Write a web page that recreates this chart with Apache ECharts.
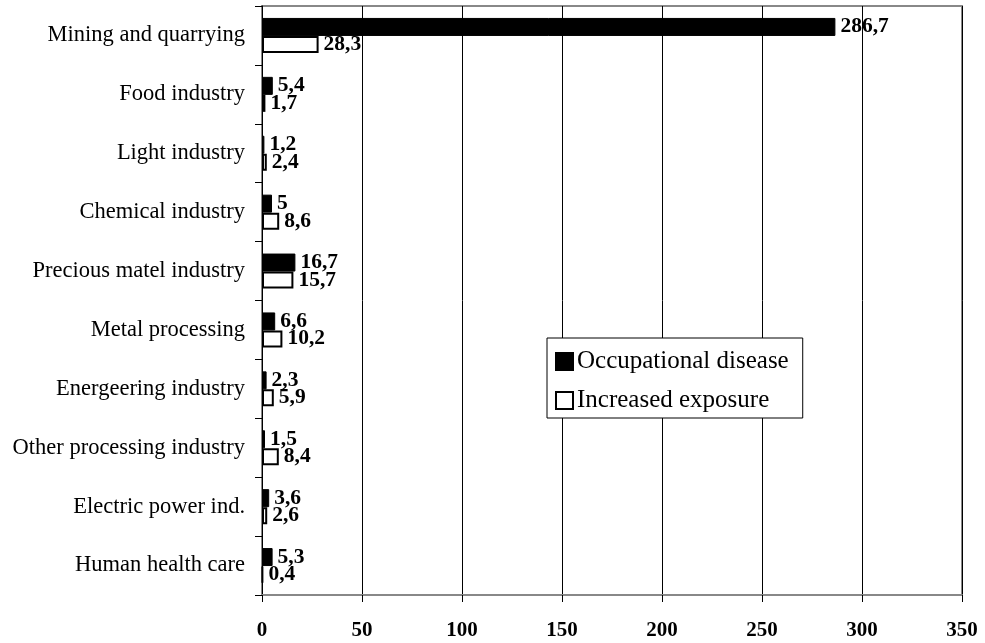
<!DOCTYPE html>
<html><head><meta charset="utf-8">
<script src="https://cdn.jsdelivr.net/npm/echarts@6/dist/echarts.min.js"></script>
<style>html,body{margin:0;padding:0;background:#fff}#c{width:985px;height:643px}</style>
</head><body><div id="c"></div>
<script>
const categories = ["Mining and quarrying","Food industry","Light industry","Chemical industry","Precious matel industry","Metal processing","Energeering industry","Other processing industry","Electric power ind.","Human health care"];
const occupational = [286.7,5.4,1.2,5,16.7,6.6,2.3,1.5,3.6,5.3];
const exposure = [28.3,1.7,2.4,8.6,15.7,10.2,5.9,8.4,2.6,0.4];
const xTicks = [0,50,100,150,200,250,300,350];

const F = '"Liberation Serif","Times New Roman",serif';
const fmt = p => String(p.value).replace('.', ',');
const chart = echarts.init(document.getElementById('c'), null, {renderer:'canvas'});
chart.setOption({
  animation:false,
  grid:{left:262,right:23,top:6,bottom:48,show:true,borderColor:'#888',borderWidth:2,backgroundColor:'transparent'},
  legend:{
    orient:'vertical', left:547, top:338, itemWidth:17, itemHeight:17, itemGap:14,
    borderColor:'#000', borderWidth:1, padding:[11,14,5,8], backgroundColor:'#fff',
    textStyle:{fontFamily:F,fontSize:25,color:'#000',padding:[0,0,0,-1]},
    data:[{name:'Occupational disease',icon:'rect'},{name:'Increased exposure',icon:'rect'}]
  },
  xAxis:{
    type:'value', min:xTicks[0], max:xTicks[xTicks.length-1], interval:50,
    axisLine:{show:true,lineStyle:{color:'#888',width:2}},
    axisTick:{show:true,length:7,lineStyle:{color:'#000',width:1}},
    splitLine:{show:true,lineStyle:{color:'#000',width:1}},
    axisLabel:{fontFamily:F,fontSize:21,fontWeight:'bold',color:'#000',margin:25}
  },
  yAxis:{
    type:'category', data:categories, inverse:true,
    axisLine:{show:true,lineStyle:{color:'#000',width:1}},
    axisTick:{show:true,length:7,lineStyle:{color:'#000'}},
    axisLabel:{fontFamily:F,fontSize:22.5,color:'#000',margin:17}
  },
  series:[
    {name:'Occupational disease',type:'bar',data:occupational,barWidth:18,barGap:'0%',
     itemStyle:{color:'#000',borderColor:'#000',borderWidth:1},
     label:{show:true,position:'right',distance:5,formatter:fmt,fontFamily:F,fontSize:21.5,fontWeight:'bold',color:'#000'}},
    {name:'Increased exposure',type:'bar',data:exposure,barWidth:17,
     itemStyle:{color:'#fff',borderColor:'#000',borderWidth:2},
     label:{show:true,position:'right',distance:5,formatter:fmt,fontFamily:F,fontSize:21.5,fontWeight:'bold',color:'#000'}}
  ]
});
</script></body></html>
